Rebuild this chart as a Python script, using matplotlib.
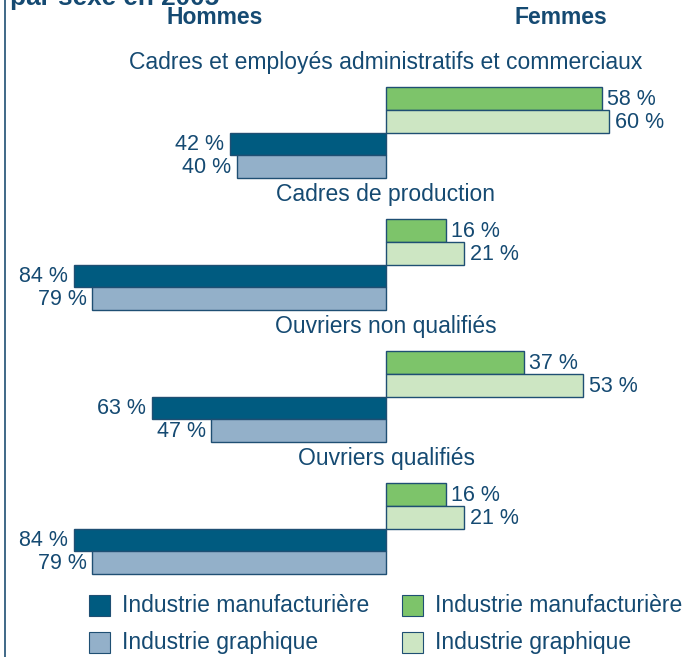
import matplotlib.pyplot as plt
from matplotlib.patches import Rectangle

# data: share of women / men by occupation, 2005
categories = ["Cadres et employés administratifs et commerciaux",
              "Cadres de production",
              "Ouvriers non qualifiés",
              "Ouvriers qualifiés"]
femmes_manuf = [58, 16, 37, 16]
femmes_graph = [60, 21, 53, 21]
hommes_manuf = [42, 84, 63, 84]
hommes_graph = [40, 79, 47, 79]

c_text = "#154a72"
c_edge = "#1f4f73"
c_hm = "#005b80"
c_hg = "#93b0c9"
c_fm = "#7dc46a"
c_fg = "#cde6c3"

W, H = 686, 657
fig = plt.figure(figsize=(W / 100, H / 100), dpi=100)
ax = fig.add_axes([0, 0, 1, 1])
ppp = 3.72  # pixels per percent
cx = 386
ax.set_xlim(-cx / ppp, (W - cx) / ppp)
ax.set_ylim(H, 0)
ax.axis("off")

font = "Liberation Sans"

bh = 22.75
top0, step = 87, 132
for i, cat in enumerate(categories):
    top = top0 + i * step
    ax.text(0, top - 25, cat, ha="center", va="center", fontsize=16.5,
            color=c_text, family=font)
    rows = [(femmes_manuf[i], 1, c_fm), (femmes_graph[i], 1, c_fg),
            (hommes_manuf[i], -1, c_hm), (hommes_graph[i], -1, c_hg)]
    for j, (v, s, col) in enumerate(rows):
        y = top + j * bh
        ax.barh(y, s * v, height=bh, align="edge", color=col,
                edgecolor=c_edge, linewidth=1)
        ax.text(s * (v + 1.5), y + bh / 2 + 1, f"{v} %",
                ha="left" if s > 0 else "right", va="center",
                fontsize=15.5, color=c_text, family=font)

# headers
ax.text(-46, 17, "Hommes", ha="center", va="center", fontsize=16.5,
        fontweight="bold", color=c_text, family=font)
ax.text(47, 17, "Femmes", ha="center", va="center", fontsize=16.5,
        fontweight="bold", color=c_text, family=font)
# cut-off title
fig.text(10 / W, 1 - 5 / H, "par sexe en 2005", ha="left", va="baseline",
         fontsize=18.8, fontweight="bold", color=c_text, family=font)

# left frame line
fig.add_artist(plt.Line2D([5 / W, 5 / W], [0, 1], color=c_edge, lw=1.2))

# legend
legend = [("Industrie manufacturière", c_hm, 89, 595),
          ("Industrie graphique", c_hg, 89, 632),
          ("Industrie manufacturière", c_fm, 402, 595),
          ("Industrie graphique", c_fg, 402, 632)]
for lab, col, lx, ly in legend:
    fig.add_artist(Rectangle((lx / W, 1 - (ly + 21) / H), 21 / W, 21 / H,
                             facecolor=col, edgecolor=c_edge, lw=0.8,
                             transform=fig.transFigure))
    fig.text((lx + 33) / W, 1 - (ly + 11) / H, lab, ha="left", va="center",
             fontsize=16.5, color=c_text, family=font)

fig.savefig("out.png", dpi=100)
